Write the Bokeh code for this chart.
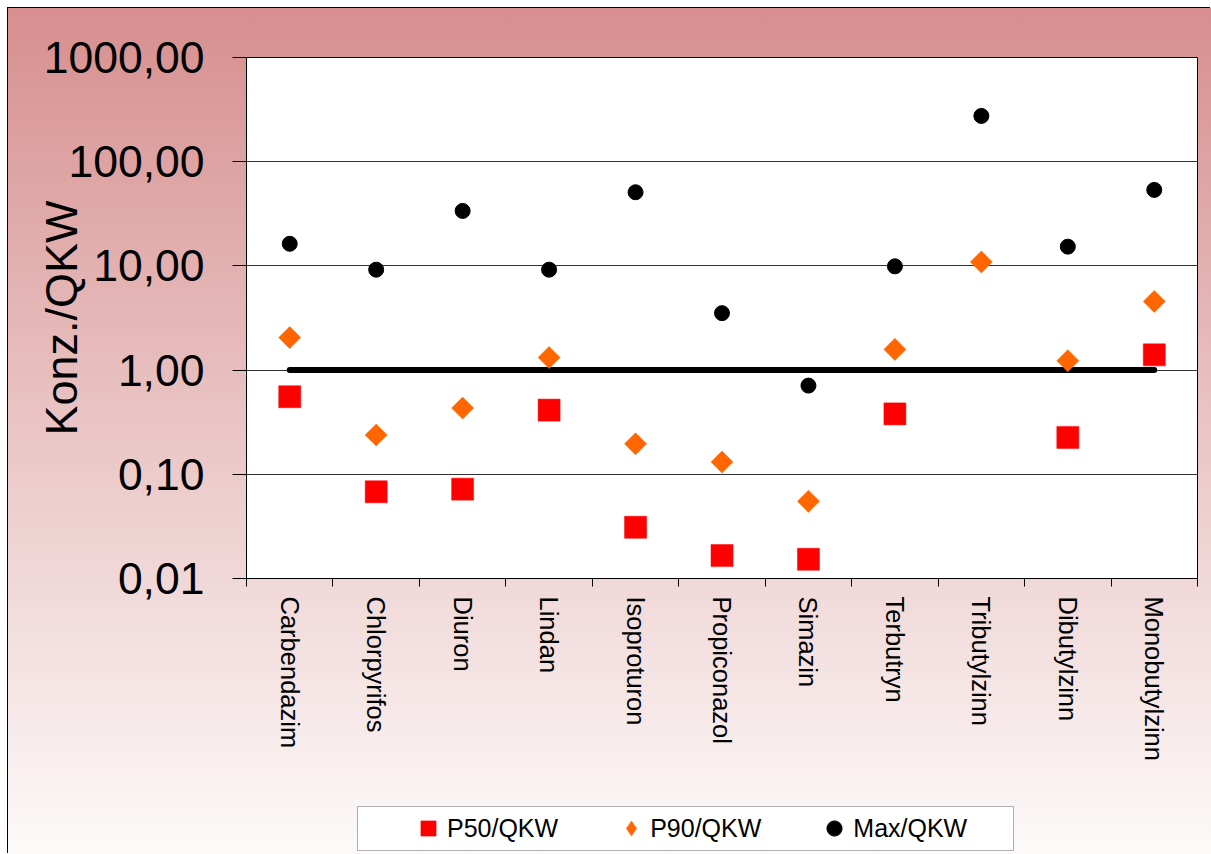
import math
from bokeh.plotting import figure
from bokeh.layouts import column
from bokeh.models import (FixedTicker, Range1d, Legend, LegendItem, ColumnDataSource,
                          BoxAnnotation)
from bokeh.embed import file_html
from bokeh.resources import INLINE

# ---- data ----
categories = ["Carbendazim", "Chlorpyrifos", "Diuron", "Lindan", "Isoproturon",
              "Propiconazol", "Simazin", "Terbutryn", "Tributylzinn",
              "Dibutylzinn", "Monobutylzinn"]
p50_qkw = [0.555, 0.068, 0.072, 0.413, 0.031, 0.0166, 0.0153, 0.38, float("nan"), 0.226, 1.40]
p90_qkw = [2.05, 0.238, 0.432, 1.32, 0.196, 0.131, 0.055, 1.58, 10.9, 1.23, 4.56]
max_qkw = [16.3, 9.2, 33.7, 9.2, 50.9, 3.52, 0.71, 9.9, 275.0, 15.3, 53.6]
qkw_threshold = 1.0
y_tick_values = [0.01, 0.1, 1, 10, 100, 1000]
y_tick_labels = ["0,01", "0,10", "1,00", "10,00", "100,00", "1000,00"]
series_names = ["P50/QKW", "P90/QKW", "Max/QKW"]

n = len(categories)
xs = [i + 0.5 for i in range(n)]
src = ColumnDataSource(dict(x=xs, p50=p50_qkw, p90=p90_qkw, mx=max_qkw,
                            thr=[qkw_threshold] * n))

FONT = "Liberation Sans"
W = 1203
H_MAIN = 792
H_LEG = 54
BL, BR = 238, 14   # side borders -> frame spans page x 246..1197

styles_p50 = dict(marker="square", fill_color="#ff0000", line_color="#ff0000", line_width=0.5)
styles_p90 = dict(marker="square", angle=math.pi / 4, fill_color="#ff6600",
                  line_color="#ff6600", line_width=0.5)
styles_max = dict(marker="circle", fill_color="black", line_color="black")

p = figure(width=W, height=H_MAIN, output_backend="svg", toolbar_location=None,
           y_axis_type="log", x_range=Range1d(0, n), y_range=Range1d(0.01, 1000),
           min_border_left=BL, min_border_right=BR, min_border_top=49,
           min_border_bottom=H_MAIN - 49 - 521)
p.border_fill_color = None
p.background_fill_color = "white"
p.outline_line_color = "black"
p.outline_line_width = 1

# threshold line (QKW = 1)
p.line("x", "thr", source=src, line_color="black", line_width=6, line_cap="round")

p.scatter("x", "p50", source=src, size=22, **styles_p50)
p.scatter("x", "p90", source=src, size=15.6, **styles_p90)
p.scatter("x", "mx", source=src, size=15, **styles_max)

# x axis
xa = p.xaxis[0]
xa.ticker = FixedTicker(ticks=xs, minor_ticks=list(range(n + 1)))
xa.major_label_overrides = {x: c for x, c in zip(xs, categories)}
xa.major_tick_out = 0
xa.major_tick_in = 0
xa.minor_tick_out = 8
xa.minor_tick_in = 0
xa.minor_tick_line_color = "black"
xa.axis_line_color = "black"
xa.major_label_orientation = "vertical"
xa.major_label_standoff = 10
xa.major_label_text_font = FONT
xa.major_label_text_font_size = "25.5px"
xa.major_label_text_color = "black"
p.xgrid.visible = False

# y axis
ya = p.yaxis[0]
yt = FixedTicker(ticks=y_tick_values, minor_ticks=[])
ya.ticker = yt
ya.major_label_overrides = {v: l for v, l in zip(y_tick_values, y_tick_labels)}
ya.major_tick_out = 14
ya.major_tick_in = 0
ya.minor_tick_out = 0
ya.minor_tick_in = 0
ya.major_tick_line_color = "black"
ya.axis_line_color = "black"
ya.major_label_standoff = 28
ya.major_label_text_font = FONT
ya.major_label_text_font_size = "44.5px"
ya.major_label_text_color = "black"
ya.axis_label = "Konz./QKW"
ya.axis_label_text_font = FONT
ya.axis_label_text_font_size = "45px"
ya.axis_label_text_font_style = "normal"
ya.axis_label_text_color = "black"
ya.axis_label_standoff = -46
p.ygrid.ticker = yt
p.ygrid.grid_line_color = "#333333"
p.ygrid.grid_line_width = 1
p.ygrid.minor_grid_line_color = None

# ---- legend strip (separate figure; its data units are page pixels) ----
lf = figure(width=W, height=H_LEG, output_backend="svg", toolbar_location=None,
            x_axis_location=None, y_axis_location=None,
            x_range=Range1d(8 + BL, 8 + W - BR), y_range=Range1d(0, H_LEG),
            min_border_left=BL, min_border_right=BR,
            min_border_top=0, min_border_bottom=0)
lf.border_fill_color = None
lf.background_fill_color = None
lf.outline_line_color = None
lf.xgrid.visible = False
lf.ygrid.visible = False

lf.add_layout(BoxAnnotation(left=357, right=1013, bottom=4, top=48,
                            fill_color="white", fill_alpha=1.0,
                            line_color="black", line_width=1, level="underlay"))

nan = float("nan")
leg_p90 = dict(styles_p90)
leg_p90.pop("angle")
leg_p90["marker"] = "diamond"
l50 = lf.scatter(x=[nan], y=[nan], **styles_p50)
l90 = lf.scatter(x=[nan], y=[nan], **leg_p90)
lmx = lf.scatter(x=[nan], y=[nan], **styles_max)

legend = Legend(items=[LegendItem(label=series_names[0], renderers=[l50]),
                       LegendItem(label=series_names[1], renderers=[l90]),
                       LegendItem(label=series_names[2], renderers=[lmx])],
                orientation="horizontal", location=(409 - 8 - BL, 7), padding=0,
                glyph_width=38, glyph_height=38, label_standoff=0,
                spacing=54,
                label_text_font=FONT, label_text_font_size="25px",
                label_text_color="black",
                border_line_color=None, background_fill_alpha=0.0,
                margin=0)
lf.add_layout(legend)

layout = column(p, lf, spacing=0,
                styles={"background": "linear-gradient(180deg, #d68f8e 0%, #e8c0c0 45%, #fdfafa 100%)",
                        "margin": "8px 0 0 8px",
                        "box-shadow": "-1px -1px 0 0 #000"})

open("out.html", "w").write(file_html(layout, INLINE))
